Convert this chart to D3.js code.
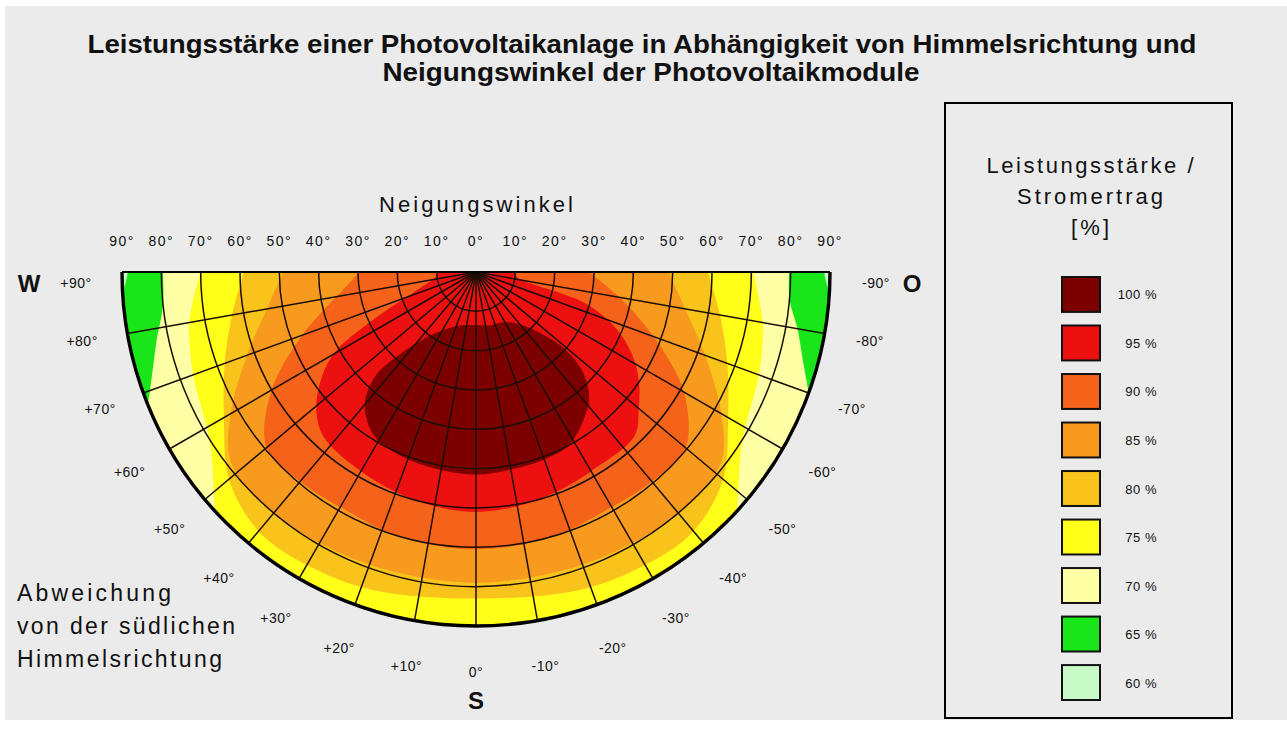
<!DOCTYPE html>
<html>
<head>
<meta charset="utf-8">
<script src="https://d3js.org/d3.v7.min.js"></script>
<style>
  body { margin: 0; background: #ffffff; }
  text { font-family: "Liberation Sans", Arial, sans-serif; fill: #111; }
</style>
</head>
<body>
<script>
// Farbstufen der Legende (Leistungsstaerke in %)
var levels = [100, 95, 90, 85, 80, 75, 70, 65, 60];
var levelColors = ["#7d0000", "#ec1010", "#f5621a", "#f79a1e", "#f8c41c", "#ffff1a", "#ffffa6", "#18e618", "#c8fac8"];

// Achsbeschriftungen
var tiltTicks = [0, 10, 20, 30, 40, 50, 60, 70, 80, 90];          // Neigungswinkel (Radius)
var azTicks = [90, 80, 70, 60, 50, 40, 30, 20, 10, 0, -10, -20, -30, -40, -50, -60, -70, -80, -90]; // Abweichung von Sued

// Grenzlinien der Farbstufen: [Azimut, Neigung]; Neigung > 90 liegt ausserhalb des Halbkreises
var bound60 = [[90,88.5],[87,90],[84,96],[80,100],[60,100],[30,100],[0,100],[-30,100],[-60,100],[-80,100],[-84,96],[-87,90],[-90,88.5]];
var bound65 = [[90,79.6],[84,80],[78,83],[73,86],[68,90],[63,96],[55,100],[30,100],[0,100],[-30,100],[-55,100],[-64,96],[-70,90],[-75,86],[-80,83],[-85,80],[-90,79.6]];
var bound70 = [[90,70],[80,74],[70,76.5],[60,79],[55,82],[50,87],[45,93],[38,100],[20,100],[0,100],[-20,100],[-38,100],[-45,93],[-50,87],[-55,82],[-60,79],[-70,76.5],[-80,74],[-90,70.4]];
var bound75 = [[90,59],[80,63],[70,68],[60,74],[50,82],[40,86],[30,86],[18,85],[0,83],[-18,85],[-30,86],[-40,86],[-50,82],[-60,74],[-70,68],[-80,63],[-90,59]];
var bound80 = [[90,49],[80,54],[70,62],[60,72],[52,79],[40,80],[28,79.5],[16,79],[0,79],[-16,79],[-28,79.5],[-40,80],[-52,79],[-60,72],[-70,62],[-80,54],[-90,49]];
var bound85 = [[90,29.5],[80,36],[70,47],[60,60],[50,69.5],[40,69.5],[28,69],[16,70],[0,70.5],[-16,70],[-28,69],[-40,69.5],[-50,69.5],[-60,61],[-70,48],[-80,37],[-90,28.7]];
var bound90 = [[90,9.5],[82,10.5],[75,14],[70,19],[65,29],[61,40],[57,46],[50,53],[43,57],[30,58.5],[20,59.5],[10,60.5],[0,61],[-10,60.5],[-20,59.5],[-30,58.5],[-44,58],[-50,54],[-56,50],[-62,45],[-68,38.5],[-74,29],[-83,10.5],[-90,10]];
// 100 %-Gebiet liegt frei im Feld (geschlossene Linie)
var bound95 = [[0,13.5],[15,14],[28,16.5],[38,21.5],[43,29],[44,37],[40,44],[32,49],[22,50.5],[12,51],[0,51.5],[-10,51],[-20,50.7],[-28,50],[-35,47],[-42,43],[-47,37],[-49,30],[-46,22],[-38,16.5],[-28,14.5],[-15,14]];

var svgWidth = 1287, svgHeight = 736;
var cx = 476, cy = 272, R = 354;

var svg = d3.select("body").append("svg")
	.attr("width", svgWidth)
	.attr("height", svgHeight);

svg.append("rect")
	.attr("x", 5).attr("y", 6)
	.attr("width", svgWidth - 5).attr("height", 714)
	.style("fill", "#ebebeb");

var rScale = d3.scaleLinear().domain([0, 90]).range([0, R]);
var aScale = d3.scaleLinear().domain([-90, 90]).range([Math.PI / 2, 3 * Math.PI / 2]);

function px(p) { return rScale(p[1]) * Math.sin(aScale(p[0])); }
function py(p) { return -rScale(p[1]) * Math.cos(aScale(p[0])); }

var halfDisk = d3.arc().innerRadius(0).outerRadius(R).startAngle(Math.PI / 2).endAngle(3 * Math.PI / 2);

svg.append("defs").append("clipPath").attr("id", "half")
	.append("path").attr("d", halfDisk());

var chart = svg.append("g").attr("transform", "translate(" + cx + "," + cy + ")");
var field = chart.append("g").attr("clip-path", "url(#half)");

var radial = d3.lineRadial()
	.angle(function(d) { return aScale(d[0]); })
	.radius(function(d) { return rScale(d[1]); })
	.curve(d3.curveCatmullRom);

var radialClosed = d3.lineRadial()
	.angle(function(d) { return aScale(d[0]); })
	.radius(function(d) { return rScale(d[1]); })
	.curve(d3.curveCatmullRomClosed);

// Gebiet vom Mittelpunkt bis zur Grenzlinie, oben ueber die Kante geschlossen
function regionPath(pts) {
	var first = pts[0], last = pts[pts.length - 1];
	return radial(pts) + "L" + px(last) + ",-40L" + px(first) + ",-40Z";
}

field.append("path").attr("d", halfDisk()).style("fill", levelColors[8]);

var regions = [bound60, bound65, bound70, bound75, bound80, bound85, bound90];
regions.forEach(function(b, i) {
	field.append("path")
		.attr("d", regionPath(b))
		.style("fill", levelColors[7 - i]);
});

field.append("path")
	.attr("d", radialClosed(bound95))
	.style("fill", levelColors[0]);

// Gitter
var grid = chart.append("g")
	.style("fill", "none")
	.style("stroke", "#1a0d05")
	.style("stroke-width", 1.5);

tiltTicks.filter(function(t) { return t > 0 && t < 90; }).forEach(function(t) {
	var p = d3.path();
	p.arc(0, 0, rScale(t), 0, Math.PI);
	grid.append("path").attr("d", p.toString());
});

azTicks.filter(function(a) { return Math.abs(a) < 90; }).forEach(function(a) {
	grid.append("line")
		.attr("x1", 0).attr("y1", 0)
		.attr("x2", px([a, 90])).attr("y2", py([a, 90]));
});

// Rand
var outer = d3.path();
outer.arc(0, 0, R, 0, Math.PI);
chart.append("path").attr("d", outer.toString())
	.style("fill", "none").style("stroke", "#000").style("stroke-width", 3.4);
chart.append("line")
	.attr("x1", -R).attr("y1", 0).attr("x2", R).attr("y2", 0)
	.style("stroke", "#000").style("stroke-width", 2);

// Titel
svg.append("text")
	.attr("x", 642).attr("y", 53)
	.attr("text-anchor", "middle")
	.attr("textLength", 1109).attr("lengthAdjust", "spacingAndGlyphs")
	.style("font-size", "25px").style("font-weight", "bold")
	.text("Leistungsstärke einer Photovoltaikanlage in Abhängigkeit  von Himmelsrichtung und");
svg.append("text")
	.attr("x", 651).attr("y", 81)
	.attr("text-anchor", "middle")
	.attr("textLength", 537).attr("lengthAdjust", "spacingAndGlyphs")
	.style("font-size", "25px").style("font-weight", "bold")
	.text("Neigungswinkel der Photovoltaikmodule");

svg.append("text")
	.attr("x", cx).attr("y", 212)
	.attr("text-anchor", "middle")
	.attr("textLength", 194).attr("lengthAdjust", "spacing")
	.style("font-size", "22px")
	.text("Neigungswinkel");

// Neigungswinkel-Beschriftung oben
var topTicks = svg.append("g").style("font-size", "14px").style("letter-spacing", "1.5px");
tiltTicks.forEach(function(t) {
	[-1, 1].forEach(function(s) {
		if (t === 0 && s === 1) return;
		topTicks.append("text")
			.attr("x", cx + s * rScale(t))
			.attr("y", 246)
			.attr("text-anchor", "middle")
			.text(t + "°");
	});
});

// Azimut-Beschriftung
var azLabels = svg.append("g").style("font-size", "14px").style("letter-spacing", "0.5px");
azTicks.forEach(function(a) {
	var ang = aScale(a);
	var x = cx + 400 * Math.sin(ang);
	var y = Math.max(cy - 400 * Math.cos(ang), cy + 11);
	azLabels.append("text")
		.attr("x", x).attr("y", y + 5)
		.attr("text-anchor", "middle")
		.text((a > 0 ? "+" : "") + a + "°");
});

var compass = svg.append("g").style("font-size", "24px").style("font-weight", "bold");
compass.append("text").attr("x", 29).attr("y", 292).attr("text-anchor", "middle").text("W");
compass.append("text").attr("x", 912).attr("y", 292).attr("text-anchor", "middle").text("O");
compass.append("text").attr("x", cx).attr("y", 709).attr("text-anchor", "middle").text("S");

var side = ["Abweichung", "von der südlichen", "Himmelsrichtung"];
var sideLen = [154, 218, 205];
side.forEach(function(s, i) {
	svg.append("text")
		.attr("x", 17).attr("y", 601 + i * 33)
		.attr("textLength", sideLen[i]).attr("lengthAdjust", "spacing")
		.style("font-size", "23px")
		.text(s);
});

// Legende
var legend = svg.append("g");
legend.append("rect")
	.attr("x", 945).attr("y", 103)
	.attr("width", 287).attr("height", 615)
	.style("fill", "#ebebeb").style("stroke", "#000").style("stroke-width", 2);

var legTitle = ["Leistungsstärke /", "Stromertrag", "[%]"];
var legLen = [207, 146, 38];
legTitle.forEach(function(s, i) {
	legend.append("text")
		.attr("x", 1090).attr("y", 173 + i * 31)
		.attr("text-anchor", "middle")
		.attr("textLength", legLen[i]).attr("lengthAdjust", "spacing")
		.style("font-size", "22px")
		.text(s);
});

var legY = d3.scaleBand().domain(levels).range([277, 700]).paddingInner(0.28);
levels.forEach(function(l, i) {
	legend.append("rect")
		.attr("x", 1062).attr("y", legY(l))
		.attr("width", 38).attr("height", legY.bandwidth())
		.style("fill", levelColors[i]).style("stroke", "#111").style("stroke-width", 2);
	legend.append("text")
		.attr("x", 1157).attr("y", legY(l) + legY.bandwidth() / 2 + 5)
		.attr("text-anchor", "end")
		.style("font-size", "13px").style("letter-spacing", "0.5px")
		.text(l + " %");
});
</script>
</body>
</html>
